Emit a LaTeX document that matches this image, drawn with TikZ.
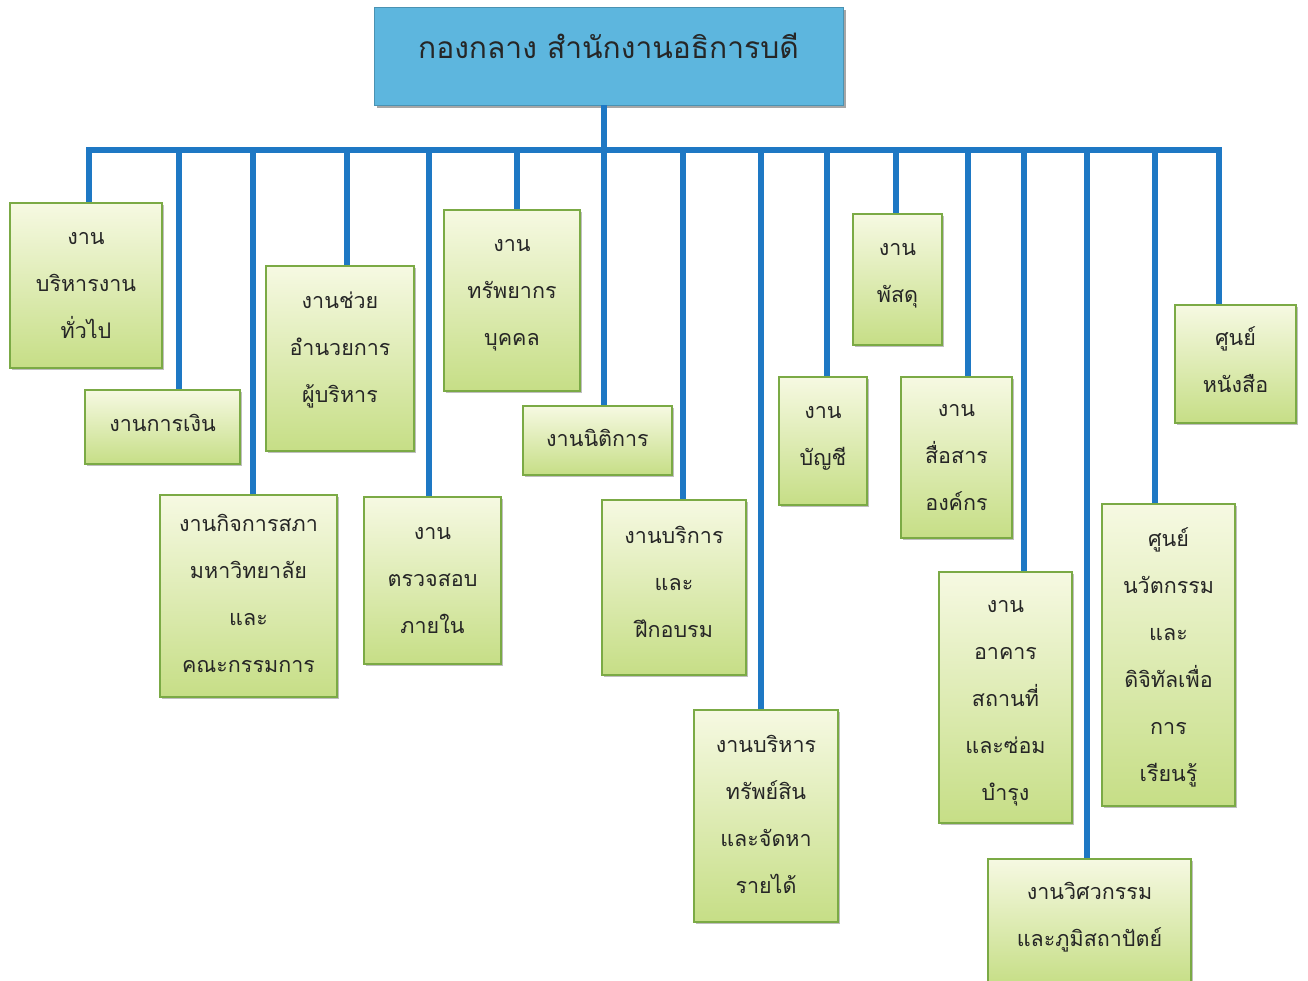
\documentclass[tikz,border=0pt]{standalone}
\usepackage{fontspec}
\newfontfamily\thaifont[Script=Thai]{Loma}
\usetikzlibrary{shadows}
\definecolor{busblue}{HTML}{1E78C4}
\definecolor{headblue}{HTML}{5DB6DE}
\definecolor{boxtop}{HTML}{F6F9E2}
\definecolor{boxbot}{HTML}{C6DE86}
\definecolor{boxedge}{HTML}{7BAA45}
\tikzset{
  unit/.style={draw=boxedge, line width=1.2pt, top color=boxtop, bottom color=boxbot,
    inner sep=0pt,
    drop shadow={shadow xshift=2pt, shadow yshift=-2pt, opacity=0.25, fill=black}},
  unittext/.style={align=center, inner sep=0pt, text=black!85,
    font={\thaifont\fontsize{21.5}{47}\selectfont}},
  headbox/.style={fill=headblue, draw=headblue!80!black, line width=0.6pt, inner sep=0pt,
    drop shadow={shadow xshift=3pt, shadow yshift=-3pt, opacity=0.35, fill=black}},
  headtext/.style={text=black!85, inner sep=0pt, font={\thaifont\fontsize{30}{36}\selectfont}},
  conn/.style={draw=busblue, line width=5.5pt}
}
\newcommand{\unitbox}[7]{%
  \node[unit, minimum width={#4-#2}, minimum height={#5-#3},
    label={[unittext, yshift=#7]center:{#6}}] (#1) at ({(#2+#4)/2},{(#3+#5)/2}) {};}
\begin{document}
\begin{tikzpicture}[x=1pt,y=-1pt]
\useasboundingbox (0,0) rectangle (1308,980);
% header
\node[headbox, minimum width=469pt, minimum height=98pt,
  label={[headtext, yshift=10pt]center:{กองกลาง สำนักงานอธิการบดี}}] (head) at (608.5,56) {};
% bus coordinates
\coordinate (bl) at (89,150);
\coordinate (br) at (1219,150);
\coordinate (bc) at (604,150);
\draw[conn] (head.south -| bc) -- (bc);
\draw[conn, line cap=rect] (bl) -- (br);
% boxes
\unitbox{u1}{10}{203}{162}{368}{งาน\\บริหารงาน\\ทั่วไป}{0pt}
\unitbox{u2}{85}{390}{240}{464}{งานการเงิน}{4pt}
\unitbox{u3}{160}{495}{337}{697}{งานกิจการสภา\\มหาวิทยาลัย\\และ\\คณะกรรมการ}{3pt}
\unitbox{u4}{266}{266}{414}{451}{งานช่วย\\อำนวยการ\\ผู้บริหาร}{9pt}
\unitbox{u5}{364}{497}{501}{664}{งาน\\ตรวจสอบ\\ภายใน}{0pt}
\unitbox{u6}{444}{210}{580}{391}{งาน\\ทรัพยากร\\บุคคล}{5pt}
\unitbox{u7}{523}{406}{672}{475}{งานนิติการ}{3pt}
\unitbox{u8}{602}{500}{746}{675}{งานบริการ\\และ\\ฝึกอบรม}{6pt}
\unitbox{u9}{694}{710}{838}{922}{งานบริหาร\\ทรัพย์สิน\\และจัดหา\\รายได้}{2pt}
\unitbox{u10}{779}{377}{867}{505}{งาน\\บัญชี}{3pt}
\unitbox{u11}{853}{214}{942}{345}{งาน\\พัสดุ}{4pt}
\unitbox{u12}{901}{377}{1012}{538}{งาน\\สื่อสาร\\องค์กร}{0pt}
\unitbox{u13}{939}{572}{1072}{823}{งาน\\อาคาร\\สถานที่\\และซ่อม\\บำรุง}{-6pt}
\unitbox{u14}{988}{859}{1191}{985}{งานวิศวกรรม\\และภูมิสถาปัตย์}{5pt}
\unitbox{u15}{1102}{504}{1235}{806}{ศูนย์\\นวัตกรรม\\และ\\ดิจิทัลเพื่อ\\การ\\เรียนรู้}{-2pt}
\unitbox{u16}{1175}{305}{1296}{423}{ศูนย์\\หนังสือ}{4pt}
% drops from the bus to each unit
\foreach \n/\x in {u1/89,u2/179,u3/253,u4/347,u5/429,u6/517,u7/604,u8/683,u9/761,u10/827,u11/896,u12/968,u13/1024,u14/1087,u15/1155,u16/1219}{
  \coordinate (d\n) at (\x,150);
  \draw[conn] (d\n) -- (d\n |- \n.north);
}
\end{tikzpicture}
\end{document}
